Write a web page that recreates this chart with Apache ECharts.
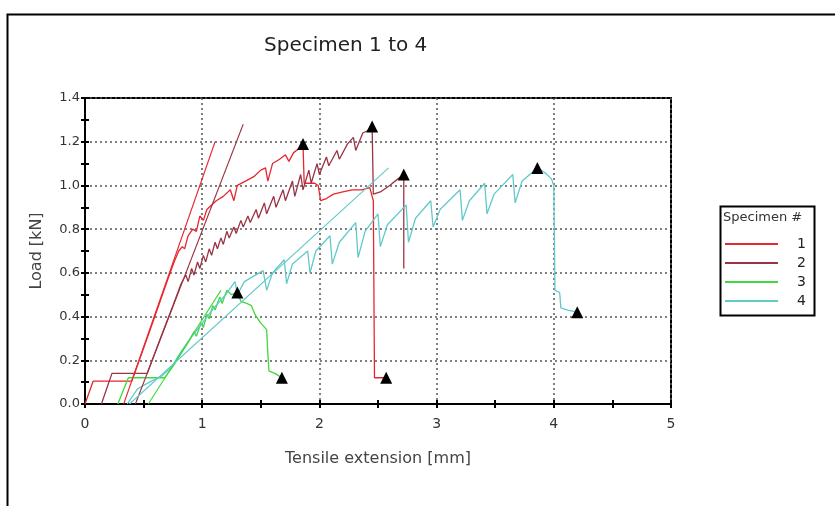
<!DOCTYPE html>
<html><head><meta charset="utf-8">
<script src="https://cdn.jsdelivr.net/npm/echarts@6/dist/echarts.min.js"></script>
<style>html,body{margin:0;padding:0;background:#fff}#c{width:835px;height:506px}</style>
</head><body><div id="c"></div>
<script>
const legendNames = ['1', '2', '3', '4'];
const spec1 = [[0,0],[0.07,0.105],[0.40,0.105],[0.55,0.33],[0.70,0.56],[0.76,0.65],[0.80,0.70],[0.83,0.72],[0.85,0.71],[0.88,0.77],[0.92,0.80],[0.95,0.79],[0.98,0.86],[1.01,0.84],[1.04,0.89],[1.08,0.91],[1.12,0.93],[1.18,0.95],[1.24,0.98],[1.27,0.93],[1.30,1.00],[1.37,1.02],[1.44,1.04],[1.50,1.07],[1.54,1.08],[1.56,1.02],[1.60,1.10],[1.66,1.12],[1.71,1.14],[1.74,1.11],[1.78,1.15],[1.83,1.17],[1.86,1.19],[1.87,1.01],[1.96,1.01],[1.99,1.00],[2.01,0.93],[2.06,0.94],[2.12,0.96],[2.20,0.97],[2.28,0.98],[2.36,0.98],[2.43,0.99],[2.45,0.95],[2.46,0.93],[2.47,0.12],[2.57,0.12]];
const spec2 = [[0.14,0],[0.23,0.14],[0.53,0.14],[0.65,0.31],[0.75,0.45],[0.82,0.55],[0.86,0.59],[0.88,0.56],[0.91,0.62],[0.93,0.59],[0.96,0.65],[0.98,0.62],[1.01,0.68],[1.03,0.65],[1.06,0.71],[1.08,0.68],[1.11,0.74],[1.13,0.71],[1.16,0.76],[1.18,0.73],[1.21,0.79],[1.23,0.76],[1.27,0.81],[1.29,0.78],[1.33,0.84],[1.35,0.81],[1.39,0.86],[1.41,0.83],[1.46,0.89],[1.48,0.85],[1.53,0.92],[1.55,0.87],[1.61,0.95],[1.63,0.90],[1.69,0.98],[1.71,0.93],[1.77,1.02],[1.79,0.95],[1.84,1.05],[1.86,0.98],[1.91,1.07],[1.93,1.01],[1.98,1.10],[2.00,1.05],[2.06,1.13],[2.08,1.09],[2.15,1.16],[2.17,1.12],[2.24,1.19],[2.29,1.22],[2.31,1.16],[2.37,1.24],[2.41,1.25],[2.45,1.27],[2.46,0.96],[2.52,0.97],[2.60,1.00],[2.67,1.03],[2.72,1.05],[2.72,0.62]];
const spec3 = [[0.28,0],[0.37,0.12],[0.68,0.12],[0.76,0.18],[0.83,0.24],[0.89,0.29],[0.93,0.33],[0.95,0.31],[0.99,0.37],[1.01,0.35],[1.04,0.41],[1.06,0.39],[1.09,0.45],[1.11,0.43],[1.15,0.49],[1.17,0.46],[1.21,0.52],[1.25,0.50],[1.30,0.51],[1.33,0.47],[1.38,0.46],[1.42,0.45],[1.45,0.41],[1.50,0.37],[1.55,0.34],[1.56,0.23],[1.57,0.15],[1.62,0.14],[1.68,0.12]];
const spec4 = [[0.36,0],[0.45,0.07],[0.55,0.10],[0.66,0.13],[0.74,0.17],[0.82,0.24],[0.90,0.30],[1.00,0.37],[1.10,0.44],[1.20,0.50],[1.28,0.56],[1.30,0.50],[1.36,0.56],[1.52,0.61],[1.55,0.52],[1.60,0.60],[1.70,0.66],[1.72,0.55],[1.77,0.64],[1.90,0.70],[1.92,0.60],[1.97,0.70],[2.09,0.77],[2.11,0.64],[2.17,0.74],[2.31,0.83],[2.33,0.67],[2.39,0.79],[2.50,0.87],[2.52,0.72],[2.58,0.82],[2.74,0.91],[2.76,0.74],[2.82,0.85],[2.95,0.93],[2.97,0.81],[3.03,0.89],[3.20,0.98],[3.22,0.84],[3.28,0.93],[3.41,1.01],[3.43,0.87],[3.49,0.96],[3.65,1.05],[3.67,0.92],[3.73,1.02],[3.86,1.08],[3.92,1.06],[3.98,1.03],[4.00,1.00],[4.01,0.52],[4.05,0.51],[4.06,0.44],[4.12,0.43],[4.20,0.42]];
const fit1 = [[0.33,0],[1.11,1.20]];
const fit2 = [[0.43,0],[1.35,1.28]];
const fit3 = [[0.54,0],[1.16,0.52]];
const fit4 = [[0.38,0],[2.59,1.08]];
const markers = [[1.86,1.19],[2.45,1.27],[2.72,1.05],[2.57,0.12],[1.30,0.51],[1.68,0.12],[3.86,1.08],[4.20,0.42]];

const colors = ['#e8262e', '#9a3444', '#3fd83f', '#62c9c9'];
const FONT = 'DejaVu Sans';
const chart = echarts.init(document.getElementById('c'), null, {renderer: 'canvas'});

function lineSeries(name, data, color, width) {
  return {name, type: 'line', data, color, showSymbol: false, symbol: 'none',
    lineStyle: {color, width}, animation: false, xAxisIndex: 0, yAxisIndex: 0, z: 3};
}
const curves = [spec1, spec2, spec3, spec4];
const fits = [fit1, fit2, fit3, fit4];
const series = [];
curves.forEach((d, i) => series.push(lineSeries(legendNames[i], d, colors[i], 1.3)));
fits.forEach((d, i) => series.push(lineSeries('fit' + legendNames[i], d, colors[i], 1.1)));
series.push({name: 'marks', type: 'scatter', data: markers, symbol: 'triangle', symbolSize: 12,
  itemStyle: {color: '#000', opacity: 1}, z: 5, animation: false});

const axisBase = {type: 'value', axisLine: {onZero: false, lineStyle: {color: '#000', width: 2}}};
chart.setOption({
  animation: false,
  backgroundColor: '#fff',
  title: {text: 'Specimen 1 to 4', left: 259, top: 31,
    textStyle: {fontFamily: FONT, fontSize: 20, fontWeight: 'normal', color: '#222'}},
  grid: {left: 85, right: 164, top: 98, bottom: 102, show: true, borderColor: '#000', borderWidth: 2, backgroundColor: 'transparent'},
  legend: {data: legendNames, orient: 'vertical', left: 720, top: 232, icon: 'rect',
    itemWidth: 53, itemHeight: 2, itemGap: 5,
    textStyle: {fontFamily: FONT, fontSize: 14, color: '#222', lineHeight: 14, padding: [0, 0, 0, 14]}},
  xAxis: [
    Object.assign({}, axisBase, {min: 0, max: 5, interval: 1, position: 'bottom',
      name: 'Tensile extension [mm]', nameLocation: 'middle', nameGap: 47,
      nameTextStyle: {fontFamily: FONT, fontSize: 16, color: '#444'},
      axisTick: {show: true, length: 4, lineStyle: {color: '#000', width: 2}},
      minorTick: {show: true, splitNumber: 2, length: 4, lineStyle: {color: '#000', width: 2}},
      axisLabel: {fontFamily: FONT, fontSize: 14, color: '#333', margin: 13},
      splitLine: {show: true, lineStyle: {color: '#555', width: 1.5, type: [2, 3]}}}),
    Object.assign({}, axisBase, {min: 0, max: 5, interval: 1, position: 'bottom',
      axisLine: {show: false, onZero: false},
      axisTick: {show: true, inside: true, length: 4, lineStyle: {color: '#000', width: 2}},
      minorTick: {show: true, splitNumber: 2, length: 4, lineStyle: {color: '#000', width: 2}},
      axisLabel: {show: false}, splitLine: {show: false}})
  ],
  yAxis: [
    Object.assign({}, axisBase, {min: 0, max: 1.4, interval: 0.2, position: 'left',
      name: 'Load [kN]', nameLocation: 'middle', nameGap: 40, nameRotate: 90,
      nameTextStyle: {fontFamily: FONT, fontSize: 16, color: '#444'},
      axisTick: {show: true, length: 4, lineStyle: {color: '#000', width: 2}},
      minorTick: {show: true, splitNumber: 2, length: 4, lineStyle: {color: '#000', width: 2}},
      axisLabel: {fontFamily: FONT, fontSize: 13, color: '#333', margin: 5, formatter: v => v.toFixed(1)},
      splitLine: {show: true, lineStyle: {color: '#555', width: 1.5, type: [2, 3]}}}),
    Object.assign({}, axisBase, {min: 0, max: 1.4, interval: 0.2, position: 'left',
      axisLine: {show: false, onZero: false},
      axisTick: {show: true, inside: true, length: 4, lineStyle: {color: '#000', width: 2}},
      minorTick: {show: true, splitNumber: 2, length: 4, lineStyle: {color: '#000', width: 2}},
      axisLabel: {show: false}, splitLine: {show: false}})
  ],
  graphic: [
    {type: 'rect', left: 5, top: 12, shape: {width: 840, height: 600}, silent: true,
      style: {fill: 'none', stroke: '#000', lineWidth: 2}, z: 0},
    {type: 'rect', left: 718, top: 204, shape: {width: 94, height: 109}, silent: true,
      style: {fill: 'none', stroke: '#000', lineWidth: 2}, z: 10},
    {type: 'text', left: 723, top: 211, silent: true,
      style: {text: 'Specimen #', font: '13px "DejaVu Sans"', fill: '#333'}, z: 10}
  ],
  series
});
</script></body></html>
